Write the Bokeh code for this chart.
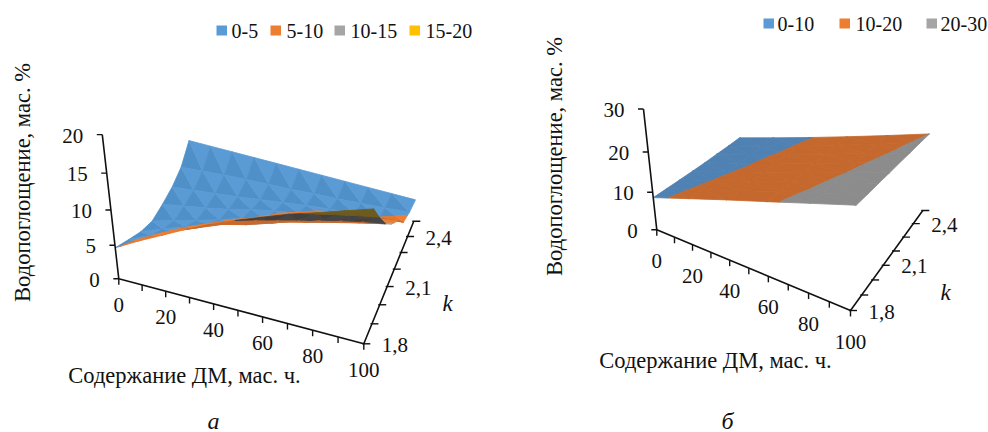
from bokeh.plotting import figure
from bokeh.layouts import row
from bokeh.models import Range1d
from bokeh.embed import file_html
from bokeh.resources import INLINE
from bokeh.core.properties import value
import math

# ---------- data ----------
K_VALUES = [1.8, 1.9, 2.0, 2.1, 2.2, 2.3, 2.4, 2.5]
K_LABELLED = {1.8: "1,8", 2.1: "2,1", 2.4: "2,4"}
DM_TICKS = [0, 10, 20, 30, 40, 50, 60, 70, 80, 90, 100]
DM_LABELLED = [0, 20, 40, 60, 80, 100]

A_DM = [0, 10, 20, 30, 40, 50, 60, 70, 80, 90, 100]
A_Z_TICKS = [0, 5, 10, 15, 20]
A_BANDS = ["0-5", "5-10", "10-15", "15-20"]
A_LEVELS = [0, 5, 10, 15, 20]
A_UNDER_LEVELS = [0, 5, 13, 16.3, 20]
A_K18 = [4.63, 6.49, 8.22, 9.97, 11.58, 13.07, 14.43, 15.77, 16.90, 18.11, 19.30]
A_K19 = [3.00, 4.63, 6.23, 7.70, 9.15, 10.10, 11.30, 12.60, 13.80, 14.90, 16.00]
A_K20 = [1.34, 2.78, 4.20, 5.59, 6.97, 7.90, 9.00, 10.00, 11.00, 12.00, 12.90]
A_K21 = [0.11, 1.23, 2.34, 3.54, 4.84, 5.70, 6.80, 7.70, 8.60, 9.60, 10.50]
A_K22 = [0.00, 0.79, 1.57, 2.45, 3.54, 4.40, 5.20, 6.00, 6.90, 7.70, 8.50]
A_K23 = [0.11, 0.67, 1.23, 1.79, 2.45, 3.11, 3.76, 4.30, 4.70, 5.10, 5.60]
A_K24 = [0.90, 1.34, 1.79, 2.12, 2.45, 2.67, 3.11, 3.40, 3.80, 4.20, 4.70]
A_K25 = [3.20, 3.32, 3.43, 3.54, 3.65, 3.76, 3.87, 3.97, 4.08, 4.19, 4.30]

B_DM = [0, 20, 40, 60, 80, 100]
B_Z_TICKS = [0, 10, 20, 30]
B_BANDS = ["0-10", "10-20", "20-30"]
B_LEVELS = [0, 10, 20, 30]
B_K18 = [8.6, 12.1, 15.6, 19.0, 22.5, 26.0]
B_K19 = [7.7, 11.2, 14.6, 18.2, 21.6, 25.1]
B_K20 = [6.8, 10.3, 13.8, 17.3, 20.8, 24.3]
B_K21 = [5.9, 9.4, 12.9, 16.4, 19.9, 23.4]
B_K22 = [5.0, 8.5, 12.1, 15.5, 19.1, 22.6]
B_K23 = [4.2, 7.7, 11.2, 14.7, 18.2, 21.7]
B_K24 = [3.3, 6.8, 10.4, 13.9, 17.4, 20.9]
B_K25 = [2.5, 6.0, 9.5, 13.0, 16.5, 20.0]

Z_TITLE = "Водопоглощение, мас. %"
DM_TITLE = "Содержание ДМ, мас. ч."
FONT = value("Liberation Serif")
INK = "#111111"

# ---------- styles and view ----------
A_VIEW = dict(F00=(118.3, 278.3), F10=(363.3, 343.3), F01=(190.0, 156.0), F11=(413.3, 220.7),
              V00=(-0.75, -6.55), V10=(0.47, -6.37), V01=(-0.45, -4.9), V11=(0.39, -4.87),
              cz=0.00503, cu=-0.053, ck=0.168)
B_VIEW = dict(F00=(656.3, 229.3), F10=(850.0, 310.0), F01=(739.7, 145.3), F11=(922.3, 210.0),
              V00=(-0.40, -3.63), V10=(0.20, -3.70), V01=(-0.27, -3.17), V11=(0.31, -3.57),
              cz=0.00363, cu=-0.095, ck=0.10)

A_TOP = [("#5090c9", "#5b9bd5"), ("#e2772e", "#ed7d31"), ("#9a9a9a", "#a5a5a5"), ("#f0b400", "#ffc000")]
A_UNDER = [("#3f6f9c", "#3f6f9c"), ("#c9682a", "#c9682a"), ("#404040", "#454545"), ("#6e5a1c", "#6e5a1c")]
B_TOP = [("#4f81b3", "#4f81b3"), ("#c4682d", "#c4682d"), ("#8c8c8c", "#8c8c8c")]
LEGEND_COLORS = ["#5b9bd5", "#ed7d31", "#a5a5a5", "#ffc000"]


def warp(t, c):
    return t * (1 + c) / (1 + c * t)


def make_projector(v):
    def proj(dm, k, z):
        u = warp(dm / 100.0, v["cu"])
        s = warp((k - 1.8) / 0.7, v["ck"])
        w = z * (1 + v["cz"] * z)
        out = []
        for a in (0, 1):
            f = (v["F00"][a] * (1 - u) * (1 - s) + v["F10"][a] * u * (1 - s)
                 + v["F01"][a] * (1 - u) * s + v["F11"][a] * u * s)
            d = (v["V00"][a] * (1 - u) * (1 - s) + v["V10"][a] * u * (1 - s)
                 + v["V01"][a] * (1 - u) * s + v["V11"][a] * u * s)
            out.append(f + w * d)
        return tuple(out)
    return proj


def clip(poly, level, keep_above):
    res = []
    n = len(poly)
    for i in range(n):
        a, b = poly[i], poly[(i + 1) % n]
        ina = a[2] >= level if keep_above else a[2] <= level
        inb = b[2] >= level if keep_above else b[2] <= level
        if ina:
            res.append(a)
        if ina != inb:
            t = (level - a[2]) / (b[2] - a[2])
            res.append(tuple(a[j] + t * (b[j] - a[j]) for j in range(3)))
    return res


def draw_surface(p, dms, ks, rows, levels, under_levels, top, under, proj):
    xs, ys, cols = [], [], []
    nk, nd = len(ks), len(dms)
    for j in range(nk - 2, -1, -1):
        for i in range(nd - 1):
            p00 = (dms[i], ks[j], rows[j][i])
            p10 = (dms[i + 1], ks[j], rows[j][i + 1])
            p01 = (dms[i], ks[j + 1], rows[j + 1][i])
            p11 = (dms[i + 1], ks[j + 1], rows[j + 1][i + 1])
            for shade, tri in enumerate([[p00, p10, p01], [p10, p11, p01]]):
                sc = [proj(*q) for q in tri]
                cross = ((sc[1][0] - sc[0][0]) * (sc[2][1] - sc[0][1])
                         - (sc[1][1] - sc[0][1]) * (sc[2][0] - sc[0][0]))
                pal, lv = (top, levels) if cross < 0 else (under, under_levels)
                for b in range(len(lv) - 1):
                    poly = clip(tri, lv[b], True)
                    if poly:
                        poly = clip(poly, lv[b + 1], False)
                    if len(poly) >= 3:
                        sp = [proj(*q) for q in poly]
                        xs.append([q[0] for q in sp])
                        ys.append([q[1] for q in sp])
                        cols.append(pal[b][shade])
    p.patches(xs, ys, fill_color=cols, line_color=cols, line_width=0.8)


def texts(p, xs, ys, labels, size=21, align="center", baseline="middle", angle=0.0, style="normal"):
    p.text(xs, ys, text=labels, text_font=FONT, text_font_size=f"{size}px", text_color=INK,
           text_align=align, text_baseline=baseline, angle=angle, text_font_style=style)


def draw_axes(p, proj, z_ticks, label_dy):
    z_top = z_ticks[-1]
    o = proj(0, 1.8, 0); zt = proj(0, 1.8, z_top); d = proj(100, 1.8, 0); ke = proj(100, 2.5, 0)
    p.line([zt[0], o[0], d[0], ke[0]], [zt[1], o[1], d[1], ke[1]], line_color=INK, line_width=1.6)
    x0, y0, x1, y1 = [], [], [], []
    lx, ly, lt = [], [], []
    for z in z_ticks:
        q = proj(0, 1.8, z)
        x0.append(q[0] - 5.5); y0.append(q[1]); x1.append(q[0]); y1.append(q[1])
        lx.append(q[0] - 19); ly.append(q[1] + 1); lt.append(str(z))
    texts(p, lx, ly, lt, align="right")
    lx, ly, lt = [], [], []
    for m in DM_TICKS:
        q = proj(m, 1.8, 0)
        x0.append(q[0]); y0.append(q[1]); x1.append(q[0]); y1.append(q[1] + 6)
        if m in DM_LABELLED:
            lx.append(q[0]); ly.append(q[1] + label_dy); lt.append(str(m))
    texts(p, lx, ly, lt)
    lx, ly, lt = [], [], []
    for k in K_VALUES:
        q = proj(100, k, 0)
        x0.append(q[0] - 1.5); y0.append(q[1]); x1.append(q[0] + 6.5); y1.append(q[1])
        if k in K_LABELLED:
            lx.append(q[0] + 18); ly.append(q[1] + 1); lt.append(K_LABELLED[k])
    texts(p, lx, ly, lt, align="left")
    p.segment(x0, y0, x1, y1, line_color=INK, line_width=1.4)


def legend(p, bands, swatch_x, text_x, y):
    for b, name in enumerate(bands):
        p.quad(left=[swatch_x[b]], right=[swatch_x[b] + 10.5], top=[y - 5], bottom=[y + 5],
               fill_color=LEGEND_COLORS[b], line_color=None)
    texts(p, text_x, [y] * len(bands), bands, size=20, align="left")


def panel(x_start, width):
    p = figure(width=width, height=432, x_range=Range1d(x_start, x_start + width), y_range=Range1d(432, 0),
               x_axis_type=None, y_axis_type=None, toolbar_location=None, output_backend="svg",
               min_border=0, outline_line_color=None)
    p.grid.visible = False
    return p


pa = panel(0, 494)
proj_a = make_projector(A_VIEW)
draw_surface(pa, A_DM, K_VALUES, [A_K18, A_K19, A_K20, A_K21, A_K22, A_K23, A_K24, A_K25],
             A_LEVELS, A_UNDER_LEVELS, A_TOP, A_UNDER, proj_a)
draw_axes(pa, proj_a, A_Z_TICKS, 26)
legend(pa, A_BANDS, [216, 270, 334, 409], [231, 286, 350, 425], 30)
texts(pa, [22], [182], [Z_TITLE], size=22.5, angle=math.pi / 2)
texts(pa, [184], [375], [DM_TITLE], size=22.5)
texts(pa, [447], [303], ["k"], size=23, style="italic")
texts(pa, [213], [420], ["а"], size=24, style="italic")

pb = panel(494, 494)
proj_b = make_projector(B_VIEW)
draw_surface(pb, B_DM, K_VALUES, [B_K18, B_K19, B_K20, B_K21, B_K22, B_K23, B_K24, B_K25],
             B_LEVELS, B_LEVELS, B_TOP, B_TOP, proj_b)
draw_axes(pb, proj_b, B_Z_TICKS, 31)
legend(pb, B_BANDS, [763, 839, 926], [777, 855, 940], 23)
texts(pb, [554], [156], [Z_TITLE], size=22.5, angle=math.pi / 2)
texts(pb, [715], [360], [DM_TITLE], size=22.5)
texts(pb, [945], [292], ["k"], size=23, style="italic")
texts(pb, [727], [420], ["б"], size=24, style="italic")

layout = row(pa, pb)
open("out.html", "w").write(file_html(layout, INLINE))
